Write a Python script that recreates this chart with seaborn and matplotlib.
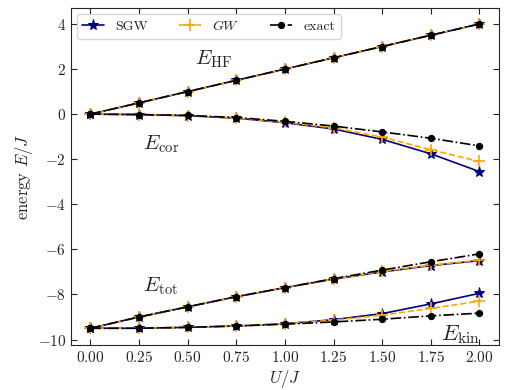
import pandas as pd
import seaborn as sns
import matplotlib.pyplot as plt
import numpy as np


# Data
U = [0.0, 0.25, 0.5, 0.75, 1.0, 1.25, 1.5, 1.75, 2.0]

hf = [0.0, 0.5, 1.0, 1.5, 2.0, 2.5, 3.0, 3.5, 4.0]

cor_sgw = [0.0, -0.02, -0.07, -0.18, -0.38, -0.66, -1.12, -1.76, -2.55]
cor_gw = [0.0, -0.02, -0.07, -0.17, -0.36, -0.61, -1.02, -1.58, -2.1]
cor_exact = [0.0, -0.02, -0.06, -0.15, -0.32, -0.53, -0.79, -1.07, -1.41]

tot_sgw = [-9.5, -9.0, -8.55, -8.1, -7.7, -7.32, -7.0, -6.72, -6.5]
tot_gw = [-9.5, -9.0, -8.55, -8.1, -7.7, -7.32, -6.98, -6.7, -6.48]
tot_exact = [-9.5, -9.0, -8.55, -8.1, -7.7, -7.3, -6.92, -6.55, -6.2]

kin_sgw = [-9.5, -9.5, -9.46, -9.4, -9.3, -9.12, -8.85, -8.42, -7.95]
kin_gw = [-9.5, -9.5, -9.46, -9.4, -9.3, -9.14, -8.92, -8.62, -8.3]
kin_exact = [-9.5, -9.5, -9.46, -9.4, -9.32, -9.22, -9.1, -8.95, -8.83]


# Style
sns.set_style('ticks')
plt.rcParams['font.family'] = 'serif'
plt.rcParams['font.serif'] = ['cmr10', 'DejaVu Serif']
plt.rcParams['mathtext.fontset'] = 'cm'
plt.rcParams['axes.formatter.use_mathtext'] = True
plt.rcParams['axes.unicode_minus'] = True
plt.rcParams['xtick.direction'] = 'in'
plt.rcParams['ytick.direction'] = 'in'
plt.rcParams['xtick.top'] = True
plt.rcParams['ytick.right'] = True

fig, ax = plt.subplots(figsize=(5.07, 3.9), dpi=100)
fig.subplots_adjust(left=0.14, right=0.984, top=0.979, bottom=0.115)

styles = {
    'SGW': dict(color='navy', linestyle='-', marker='*', markersize=8, zorder=2),
    'GW': dict(color='orange', linestyle='--', marker='+', markersize=9, markeredgewidth=1.2, zorder=3),
    'exact': dict(color='black', linestyle='-.', marker='o', markersize=4.5, zorder=4),
}
labels = {'SGW': 'SGW', 'GW': '$GW$', 'exact': 'exact'}

series = {
    'SGW': [hf, cor_sgw, tot_sgw, kin_sgw],
    'GW': [hf, cor_gw, tot_gw, kin_gw],
    'exact': [hf, cor_exact, tot_exact, kin_exact],
}

for name, curves in series.items():
    for i, vals in enumerate(curves):
        df = pd.DataFrame({'U': U, 'E': vals})
        sns.lineplot(data=df, x='U', y='E', ax=ax, linewidth=1.2,
                     label=labels[name] if i == 0 else None,
                     markeredgecolor=styles[name]['color'], **styles[name])

ax.set_xticks(U)
ax.set_xlim(-0.1, 2.1)
ax.set_ylim(-10.25, 4.7)
ax.set_yticks([4, 2, 0, -2, -4, -6, -8, -10])
ax.tick_params(labelsize=11, length=4.5)
ax.set_xlabel('$U/J$', fontsize=12, labelpad=2)
ax.set_ylabel('energy $E/J$', fontsize=12, labelpad=2)

ax.text(0.54, 2.2, r'$E_{\mathrm{HF}}$', fontsize=15)
ax.text(0.27, -1.55, r'$E_{\mathrm{cor}}$', fontsize=15)
ax.text(0.27, -7.85, r'$E_{\mathrm{tot}}$', fontsize=15)
ax.text(1.8, -10.05, r'$E_{\mathrm{kin}}$', fontsize=16)

ax.legend(loc='upper left', ncol=3, fontsize=10, handlelength=1.6,
          columnspacing=2.2, borderaxespad=0.4, frameon=True)

fig.savefig('out.png')
